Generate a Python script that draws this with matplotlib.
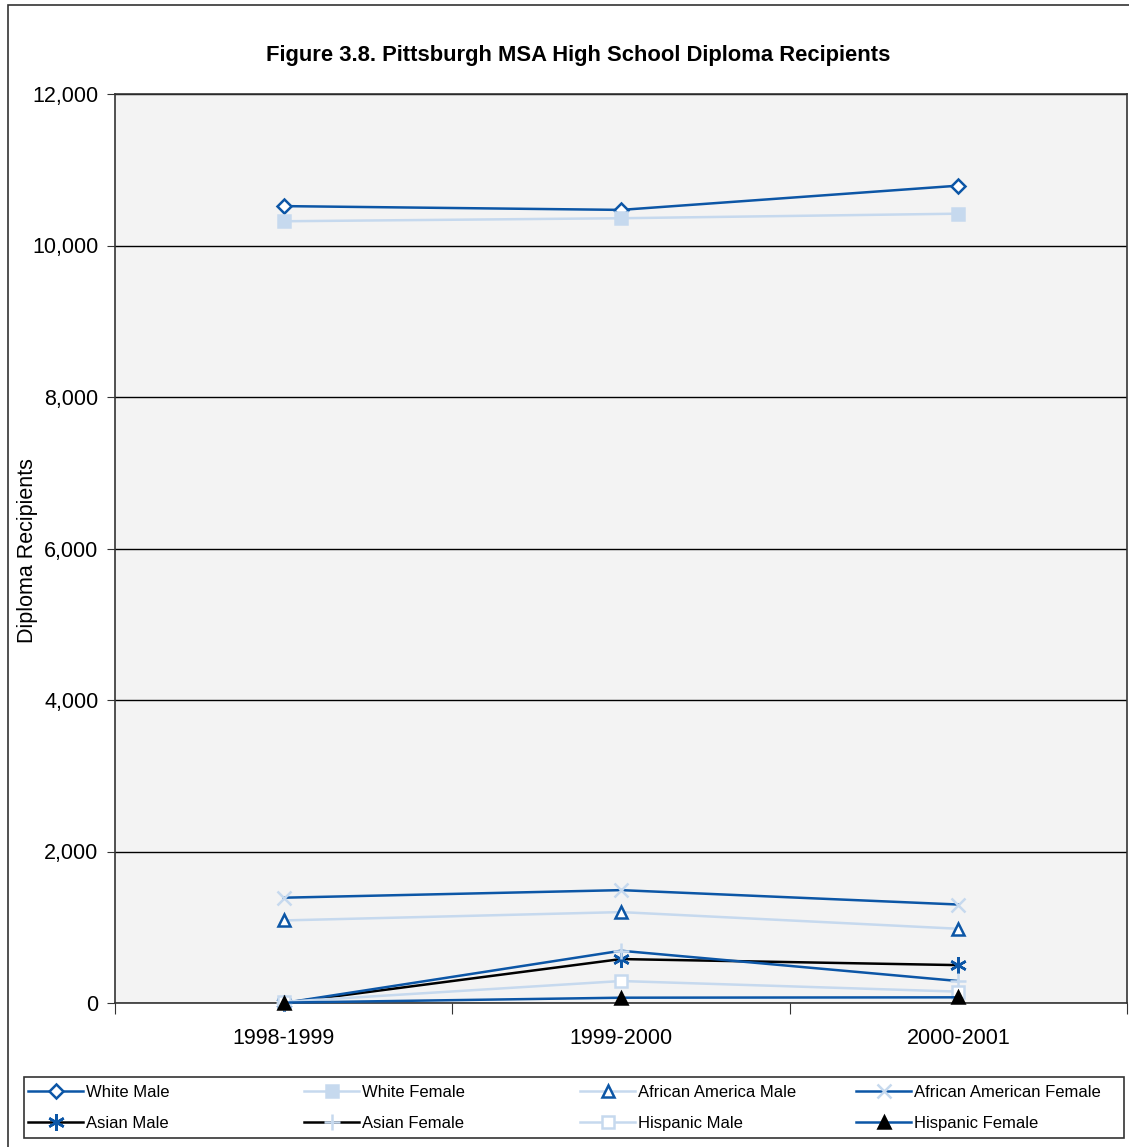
import matplotlib.pyplot as plt
from matplotlib.lines import Line2D
from matplotlib.patches import Rectangle
from matplotlib.ticker import FuncFormatter, FixedLocator

plt.rcParams["font.family"] = ["Liberation Sans", "DejaVu Sans"]

YEARS = ["1998-1999", "1999-2000", "2000-2001"]

WHITE_MALE = [10520, 10470, 10790]
WHITE_FEMALE = [10320, 10360, 10420]
AFRICAN_AMERICA_MALE = [1090, 1200, 980]
AFRICAN_AMERICAN_FEMALE = [1390, 1490, 1300]
ASIAN_MALE = [0, 580, 500]
ASIAN_FEMALE = [0, 690, 290]
HISPANIC_MALE = [15, 290, 150]
HISPANIC_FEMALE = [5, 70, 75]

DARK = "#0c56a6"
LIGHT = "#c6d9ee"

# label, values, line colour, marker, marker edge, marker face, legend line colour
SERIES = [
    ("White Male", WHITE_MALE, DARK, "D", DARK, "white", DARK),
    ("White Female", WHITE_FEMALE, LIGHT, "s", LIGHT, LIGHT, LIGHT),
    ("African America Male", AFRICAN_AMERICA_MALE, LIGHT, "^", DARK, "white", LIGHT),
    ("African American Female", AFRICAN_AMERICAN_FEMALE, DARK, "x", LIGHT, LIGHT, DARK),
    ("Asian Male", ASIAN_MALE, "black", (6, 2, 0), DARK, DARK, "black"),
    ("Asian Female", ASIAN_FEMALE, DARK, "+", LIGHT, LIGHT, "black"),
    ("Hispanic Male", HISPANIC_MALE, LIGHT, "s", LIGHT, "white", LIGHT),
    ("Hispanic Female", HISPANIC_FEMALE, DARK, "^", "black", "black", DARK),
]
MARKER_SIZE = {"D": 7, "s": 8, "^": 9, "x": 10, "+": 12, (6, 2, 0): 12}

W, H = 1129, 1147
fig = plt.figure(figsize=(W / 100, H / 100), dpi=100)

# outer chart border (runs off the right and bottom edges)
fig.patches.append(Rectangle((8 / W, -0.05), 1.1, 1 - 5 / H + 0.05,
                             transform=fig.transFigure, fill=False,
                             edgecolor="#333333", linewidth=1.2))

ax = fig.add_axes([115 / W, 1 - 1003 / H, (1127 - 115) / W, 909 / H])
ax.set_facecolor("#f3f3f3")

x = list(range(len(YEARS)))
handles = []
for i, (label, values, lc, mk, mec, mfc, legc) in enumerate(SERIES):
    style = dict(marker=mk, markersize=MARKER_SIZE[mk], markeredgecolor=mec,
                 markerfacecolor=mfc, markeredgewidth=1.8)
    ax.plot(x, values, color=lc, linewidth=1.8, zorder=3 + i, clip_on=False, **style)
    handles.append(Line2D([], [], color=legc, linewidth=1.8, label=label, **style))

ax.set_xlim(-0.5, len(YEARS) - 0.5)
ax.set_ylim(0, 12000)
ax.set_yticks(range(0, 12001, 2000))
ax.yaxis.set_major_formatter(FuncFormatter(lambda v, _: f"{int(v):,}"))
ax.grid(axis="y", color="black", linewidth=1)
ax.set_axisbelow(True)

ax.xaxis.set_major_locator(FixedLocator([-0.5, 0.5, 1.5, 2.5]))
ax.xaxis.set_minor_locator(FixedLocator(x))
ax.set_xticklabels([])
ax.set_xticklabels(YEARS, minor=True)
ax.tick_params(axis="x", which="major", length=8, direction="out", color="#333333")
ax.tick_params(axis="x", which="minor", length=0, pad=18, labelsize=15.5)
ax.tick_params(axis="y", length=6, direction="out", labelsize=15.5, pad=6, color="#333333")
for s in ax.spines.values():
    s.set_color("#333333")
    s.set_linewidth(1.2)

fig.text(578 / W, 1 - 55 / H, "Figure 3.8. Pittsburgh MSA High School Diploma Recipients",
         ha="center", va="center", fontsize=15.8, fontweight="bold")
fig.text(28 / W, 1 - 551 / H, "Diploma Recipients", rotation=90,
         ha="center", va="center", fontsize=15.5)

# legend: framed box with four evenly spaced columns of two rows
fig.patches.append(Rectangle((24 / W, 1 - 1138 / H), 1100 / W, 61 / H,
                             transform=fig.transFigure, fill=False,
                             edgecolor="#333333", linewidth=1.2))
col_x = [28, 304, 580, 856]
for c, x0 in enumerate(col_x):
    pair = [handles[c], handles[c + 4]]
    fig.legend(pair, [h.get_label() for h in pair], loc="upper left",
               bbox_to_anchor=(x0 / W, 1 - 1085 / H), frameon=False,
               fontsize=12, handlelength=3.3, handletextpad=0.15,
               labelspacing=0.95, borderpad=0, borderaxespad=0)

fig.savefig("out.png", dpi=100)
